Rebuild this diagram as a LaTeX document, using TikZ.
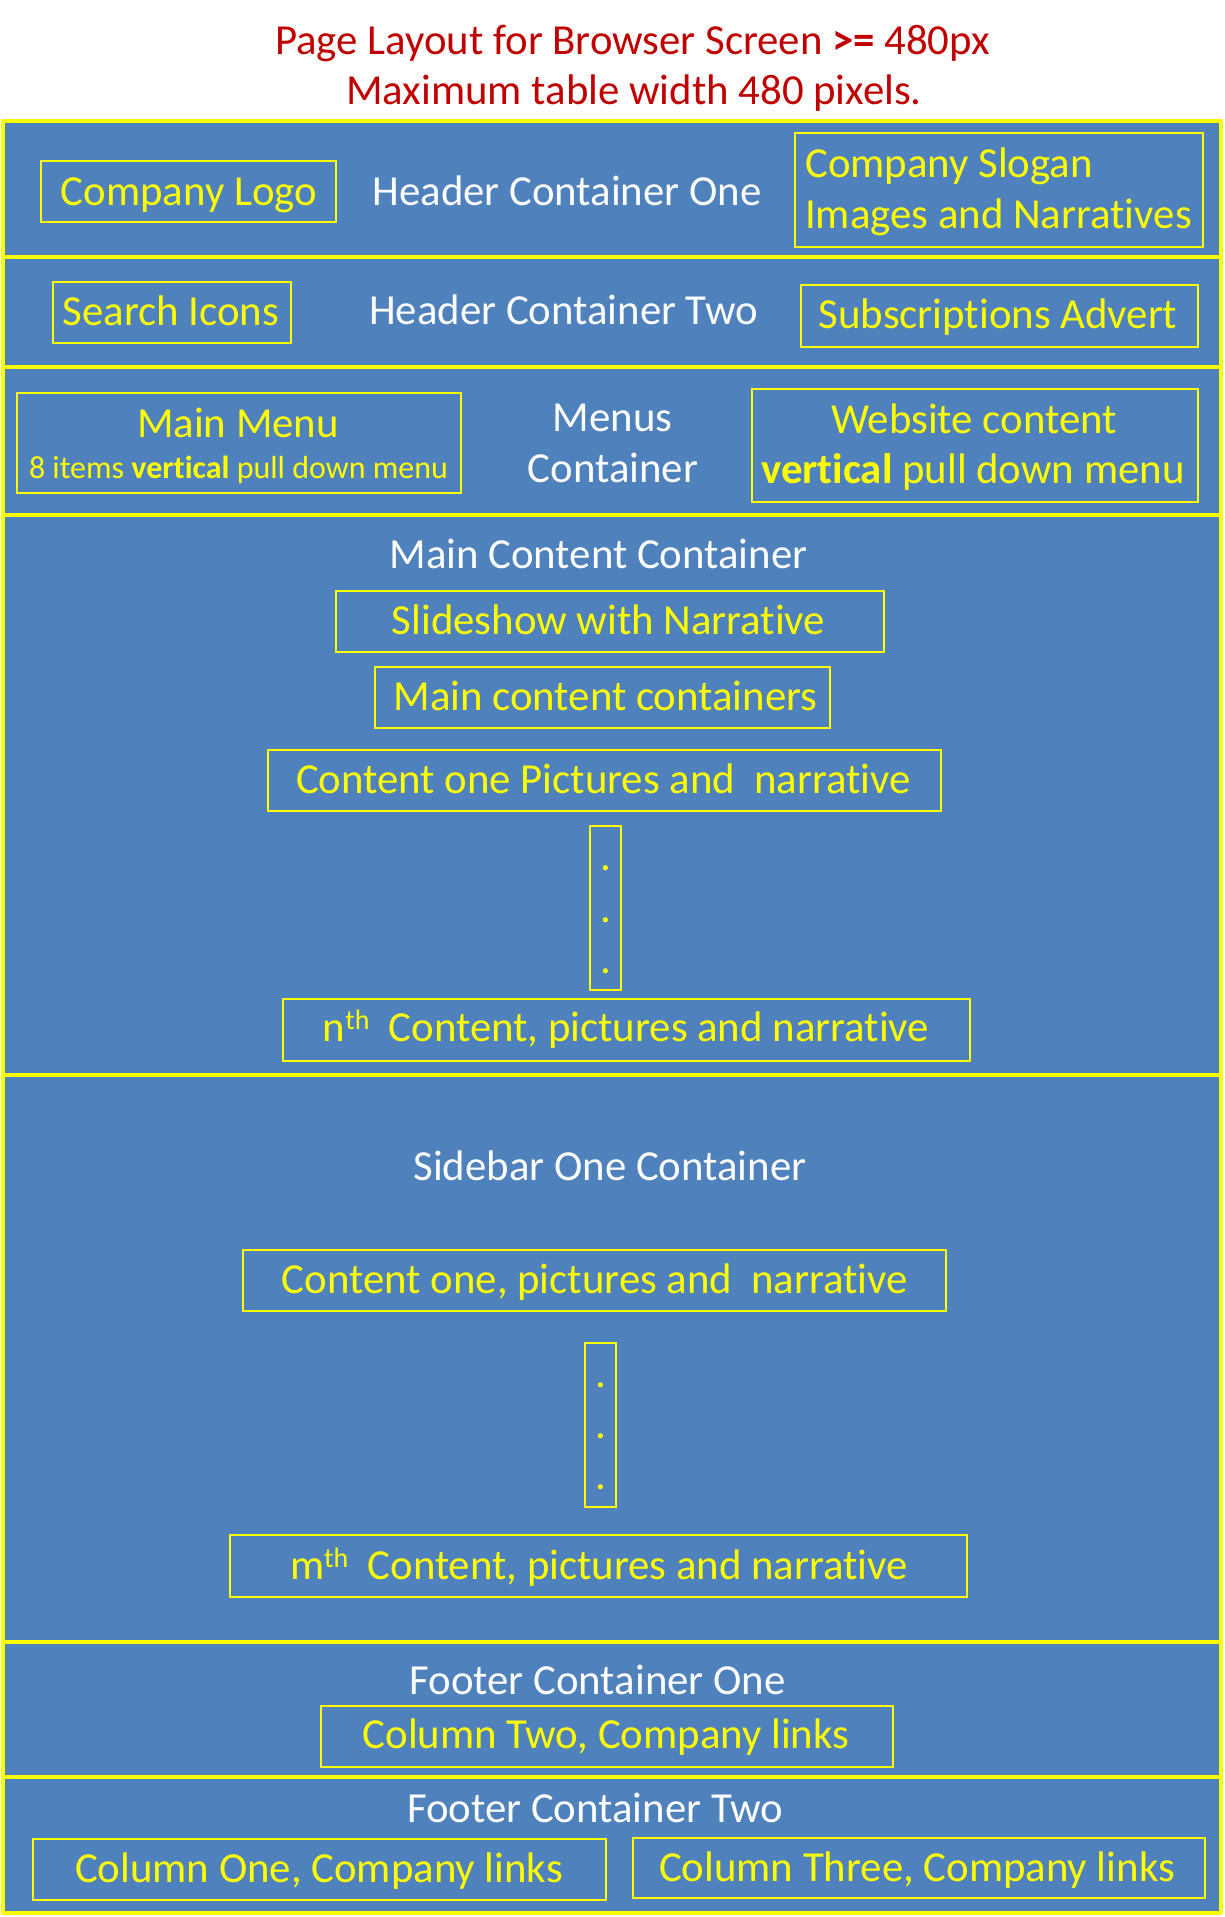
\documentclass[tikz,border=0pt]{standalone}
\usepackage{fontspec}
\setmainfont{Carlito}[Ligatures=NoCommon]
\definecolor{secblue}{HTML}{4F81BD}
\definecolor{ylw}{HTML}{FFFF00}
\definecolor{ttlred}{HTML}{C00000}
\newcommand{\bigf}{\fontsize{42.8}{50}\selectfont}
\newcommand{\smallf}{\fontsize{32}{38}\selectfont}
\newcommand{\supth}{\raisebox{12pt}{\fontsize{28}{28}\selectfont th}}
\tikzset{
  sect/.style={fill=secblue, draw=ylw, line width=4.5pt, line join=round},
  ibox/.style={draw=ylw, line width=1.3pt, inner sep=0pt, fill=none},
  wtxt/.style={text=white, font=\bigf, inner sep=0pt, anchor=base},
  ytxt/.style={text=ylw, font=\bigf, inner sep=0pt, anchor=base},
  ttl/.style={text=ttlred, font=\bigf, inner sep=0pt, anchor=base},
  dotmark/.style={text=ylw, font=\bigf, inner sep=0pt, anchor=base}
}
\begin{document}
\begin{tikzpicture}[x=1pt,y=-1pt]
\useasboundingbox (0,0) rectangle (1225,1917);
\fill[white] (0,0) rectangle (1225,1917);
% title
\node[ttl] (title1) at (632.5,54) {Page Layout for Browser Screen \textbf{>=} 480px};
\node[ttl] (title2) at (634,104) {Maximum table width 480 pixels.};
% sections
\draw[sect] (3,121) rectangle (1221,257);
\draw[sect] (3,257) rectangle (1221,367);
\draw[sect] (3,367) rectangle (1221,515);
\draw[sect] (3,515) rectangle (1221,1075);
\draw[sect] (3,1075) rectangle (1221,1642);
\draw[sect] (3,1642) rectangle (1221,1777);
\draw[sect] (3,1777) rectangle (1221,1913);
% header one
\node[ibox, minimum width=295pt, minimum height=61pt] (logo) at (188.5,191.5) {};
\node[ytxt] (logo-t) at (189,205) {Company Logo};
\node[wtxt] (hdr1) at (567,205) {Header Container One};
\node[ibox, minimum width=408pt, minimum height=114pt] (slogan) at (999,190) {};
\node[ytxt, anchor=base west] (slogan-t1) at (805,177) {Company Slogan};
\node[ytxt, anchor=base west] (slogan-t2) at (805,228) {Images and Narratives};
% header two
\node[ibox, minimum width=238pt, minimum height=61pt] (search) at (172,312.5) {};
\node[ytxt] (search-t) at (171,325) {Search Icons};
\node[wtxt] (hdr2) at (563.5,324) {Header Container Two};
\node[ibox, minimum width=397pt, minimum height=62pt] (subs) at (999.5,316) {};
\node[ytxt] (subs-t) at (998,328) {Subscriptions Advert};
% menus
\node[ibox, minimum width=444pt, minimum height=100pt] (mainmenu) at (239,443) {};
\node[ytxt] (mainmenu-t1) at (238,437) {Main Menu};
\node[ytxt, font=\smallf] (mainmenu-t2) at (238.5,478) {8 items \textbf{vertical} pull down menu};
\node[wtxt] (menus-t1) at (612.5,431) {Menus};
\node[wtxt] (menus-t2) at (613,482) {Container};
\node[ibox, minimum width=446pt, minimum height=113pt] (website) at (975,445.5) {};
\node[ytxt] (website-t1) at (974,433) {Website content};
\node[ytxt] (website-t2) at (973,483) {\textbf{vertical} pull down menu};
% main content
\node[wtxt] (main-l) at (598.5,568) {Main Content Container};
\node[ibox, minimum width=548pt, minimum height=61pt] (slide) at (610,621.5) {};
\node[ytxt] (slide-t) at (608.5,634) {Slideshow with Narrative};
\node[ibox, minimum width=455pt, minimum height=61pt] (mcc) at (602.5,697.5) {};
\node[ytxt] (mcc-t) at (605.5,710.5) {Main content containers};
\node[ibox, minimum width=673pt, minimum height=61pt] (c1) at (604.5,780.5) {};
\node[ytxt] (c1-t) at (603.5,793) {Content one Pictures and\ \ narrative};
\node[ibox, minimum width=31pt, minimum height=164pt] (dots1) at (605.5,908) {};
\node[dotmark] (d1a) at (605.5,870) {.};
\node[dotmark] (d1b) at (605.5,922) {.};
\node[dotmark] (d1c) at (605.5,973) {.};
\node[ibox, minimum width=687pt, minimum height=62pt] (cn) at (626.5,1030) {};
\node[ytxt] (cn-t) at (626,1041.5) {n\supth\ \ Content, pictures and narrative};
% sidebar
\node[wtxt] (side-l) at (610,1180) {Sidebar One Container};
\node[ibox, minimum width=703pt, minimum height=61pt] (s1) at (594.5,1280.5) {};
\node[ytxt] (s1-t) at (595,1293.5) {Content one, pictures and\ \ narrative};
\node[ibox, minimum width=31pt, minimum height=164pt] (dots2) at (600.5,1425) {};
\node[dotmark] (d2a) at (600.5,1387) {.};
\node[dotmark] (d2b) at (600.5,1438) {.};
\node[dotmark] (d2c) at (600.5,1489) {.};
\node[ibox, minimum width=737pt, minimum height=62pt] (sm) at (598.5,1566) {};
\node[ytxt] (sm-t) at (599,1579) {m\supth\ \ Content, pictures and narrative};
% footer one
\node[wtxt] (f1-l) at (597.5,1694) {Footer Container One};
\node[ibox, minimum width=572pt, minimum height=61pt] (col2) at (607,1736.5) {};
\node[ytxt] (col2-t) at (606,1748.5) {Column Two, Company links};
% footer two
\node[wtxt] (f2-l) at (595,1822) {Footer Container Two};
\node[ibox, minimum width=573pt, minimum height=61pt] (col1) at (319.5,1869.5) {};
\node[ytxt] (col1-t) at (319,1882) {Column One, Company links};
\node[ibox, minimum width=572pt, minimum height=60pt] (col3) at (919,1868) {};
\node[ytxt] (col3-t) at (917,1881) {Column Three, Company links};
\end{tikzpicture}
\end{document}
